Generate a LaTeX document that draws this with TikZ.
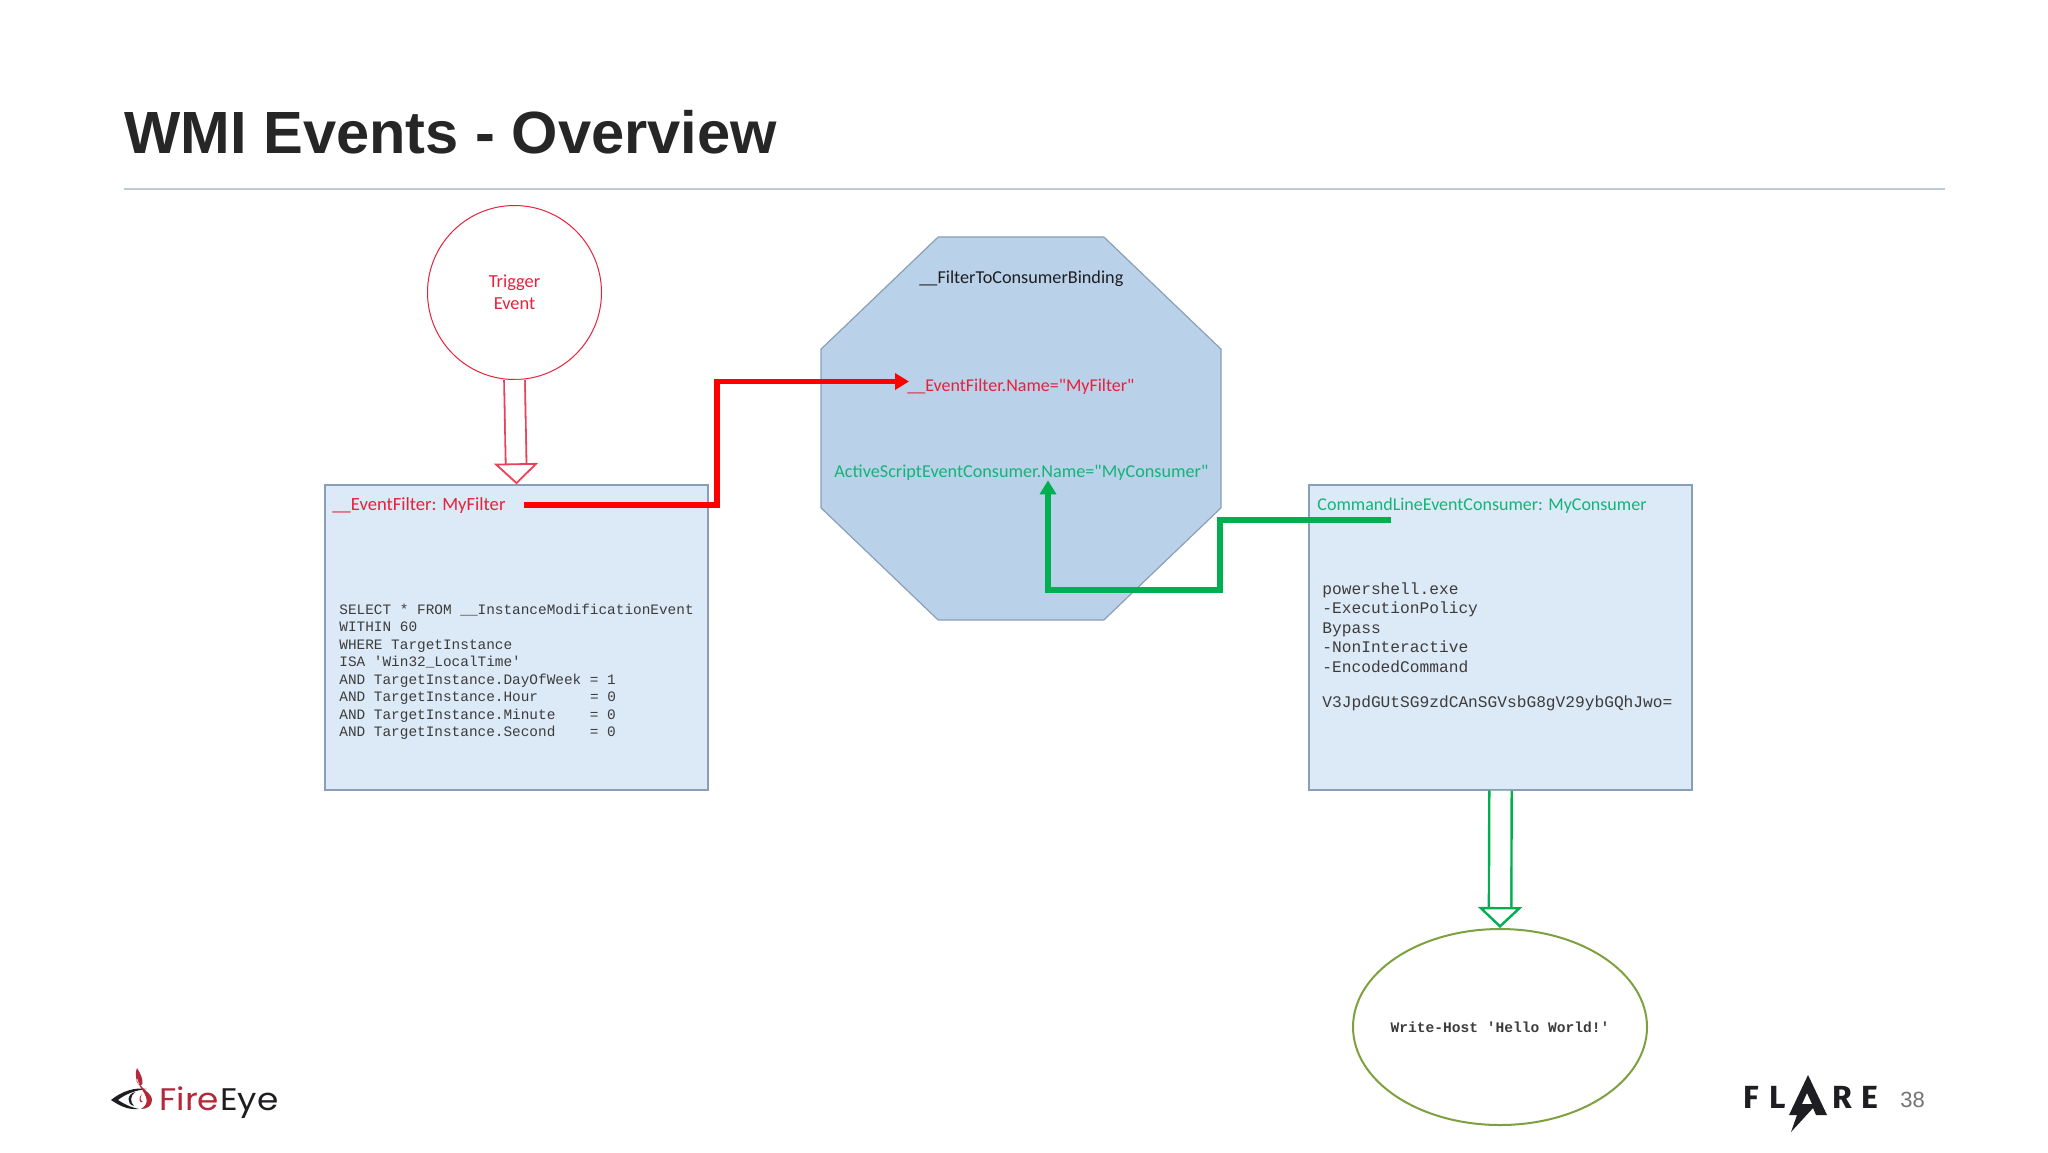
\documentclass[tikz,border=0pt]{standalone}
\usepackage{fontspec}
\setmainfont{Liberation Sans}
\setmonofont{Liberation Mono}
\newfontfamily\labelfont{Carlito}
\newfontfamily\flarefont{Fira Sans}
\newfontfamily\fireeyefont{Poppins}
\usetikzlibrary{arrows.meta,shapes.geometric,calc}
\definecolor{boxblue}{HTML}{DCE9F6}
\definecolor{octblue}{HTML}{B9D2EA}
\definecolor{edgeblue}{HTML}{8A9EB6}
\definecolor{linkgreen}{HTML}{00B050}
\definecolor{olivegreen}{HTML}{7FA03F}
\definecolor{textred}{HTML}{E8203A}
\definecolor{textgreen}{HTML}{14B377}
\definecolor{monogray}{HTML}{3C3C3C}
\definecolor{flamered}{HTML}{B5283A}
\definecolor{logodark}{HTML}{1E1E22}

\begin{document}
\begin{tikzpicture}[x=0.5pt, y=-0.5pt,
		redround/.style = {circle, draw=textred, line width=.5pt, minimum size=87pt, inner sep=0pt, align=center, text=textred, font=\labelfont\fontsize{9.2}{10.8}\selectfont},
		greenround/.style = {ellipse, draw=olivegreen, line width=1pt, minimum width=147pt, minimum height=98pt, inner xsep=-5pt, inner ysep=0pt, font=\ttfamily\bfseries\fontsize{7.3}{9}\selectfont, text=monogray},
		codebox/.style = {rectangle, draw=edgeblue, line width=.7pt, fill=boxblue, minimum width=191.5pt, minimum height=152.5pt, inner sep=0pt},
		octbox/.style = {regular polygon, regular polygon sides=8, draw=edgeblue, line width=.6pt, fill=octblue, minimum size=216.5pt, inner sep=0pt, yscale=.9575, transform shape},
		label/.style = {inner sep=0pt, anchor=base west, font=\labelfont\fontsize{9.1}{10}\selectfont},
		code/.style = {inner sep=0pt, anchor=north west, align=left, text=monogray, font=\ttfamily\fontsize{7.2}{8.75}\selectfont},
		redlink/.style = {draw=red, line width=2.6pt, -{Triangle[length=7pt,width=8pt]}, shorten >=-1pt},
		greenlink/.style = {draw=linkgreen, line width=2.6pt, -{Triangle[length=7pt,width=8pt]}},
		redblock/.style = {draw=textred!85, double=white, double distance=9.5pt, line width=.9pt, -{Triangle[open,length=10.5pt,width=22pt,line width=.9pt,fill=white]}},
		greenblock/.style = {draw=linkgreen, double=white, double distance=10pt, line width=1.2pt, -{Triangle[open,length=10.5pt,width=22pt,line width=1.2pt,fill=white]}},
		flareletter/.style = {inner sep=0pt, anchor=base west, text=logodark, font=\flarefont\bfseries\fontsize{16}{16}\selectfont},
		fireword/.style = {inner sep=0pt, anchor=base west, xscale=1.1, transform shape, font=\fireeyefont\fontsize{15.6}{16}\selectfont}
	]
	\useasboundingbox (0,0) rectangle (2048,1152);

	\node (title) [inner sep=0pt, anchor=base west, text=black!85, font=\bfseries\fontsize{29.8}{32}\selectfont] at (124,153) {WMI Events - Overview};
	\coordinate (ruleleft) at (124,189);
	\coordinate (ruleright) at (1945,189);
	\draw [draw=edgeblue!55, line width=.6pt] (ruleleft) -- (ruleright);

	\node (trigger) [redround] at (514.5,292.5) {Trigger\\Event};
	\node (filterbox) [codebox] at (516.5,637.5) {};
	\node (consumerbox) [codebox] at (1500.5,637.5) {};
	\node (binding) [octbox] at (1021,428.5) {};
	\node (hello) [greenround] at (1500,1027) {Write-Host 'Hello World!'};

	\node (filtername) [label, text=textred, font=\labelfont\fontsize{9.3}{10}\selectfont] at (332,510) {\_\_EventFilter: MyFilter};
	\node (filtercode) [code] at (339,603.5) {SELECT * FROM \_\_InstanceModificationEvent\\WITHIN 60\\WHERE TargetInstance\\ISA 'Win32\_LocalTime'\\AND TargetInstance.DayOfWeek = 1\\AND TargetInstance.Hour~~~~~~= 0\\AND TargetInstance.Minute~~~~= 0\\AND TargetInstance.Second~~~~= 0};

	\node (consumername) [label, text=textgreen, font=\labelfont\fontsize{9}{10}\selectfont] at (1317,510) {CommandLineEventConsumer: MyConsumer};
	\node (consumercode) [code, font=\ttfamily\fontsize{8.1}{9.75}\selectfont] at (1322,582) {powershell.exe\\-ExecutionPolicy\\Bypass\\-NonInteractive\\-EncodedCommand\\[8pt]V3JpdGUtSG9zdCAnSGVsbG8gV29ybGQhJwo=};

	\node (bindingname) [label, text=logodark] at (919,283) {\_\_FilterToConsumerBinding};
	\node (filterref) [label, text=textred, font=\labelfont\fontsize{9}{10}\selectfont] at (907,391) {\_\_EventFilter.Name="MyFilter"};
	\node (consumerref) [label, text=textgreen] at (834,477) {ActiveScriptEventConsumer.Name="MyConsumer"};

	\coordinate (redbend) at (717,381.5);
	\coordinate (greenstart) at (1391,520);
	\coordinate (greenup) at (1220,520);
	\coordinate (greenlow) at (1220,590);
	\coordinate (greenfoot) at (1048,590);

	\draw [redblock] (trigger.south) -- (filterbox.north);
	\draw [greenblock] (consumerbox.south) -- (hello.north);
	\draw [redlink] ([xshift=9pt]filtername.east) -| (redbend) -- (redbend -| filterref.west);
	\draw [greenlink] (greenstart) -- (greenup) -- (greenlow) -- (greenfoot) -- (greenfoot |- consumerref.south);

	\fill [logodark] (111,1100) .. controls (122,1091) and (135,1087) .. (147,1089) .. controls (135,1090) and (124,1095) .. (118,1100) .. controls (124,1104) and (130,1107) .. (139,1109) .. controls (128,1110) and (120,1106) .. (111,1100) -- cycle;
	\fill [logodark] (135,1092) .. controls (127,1094) and (126,1104) .. (134,1106) .. controls (130,1102) and (130,1096) .. (135,1092) -- cycle;
	\fill [flamered] (137,1068) .. controls (134,1076) and (137,1082) .. (140,1086) .. controls (136,1082) and (136,1080) .. (137,1078) .. controls (140,1090) and (152,1092) .. (152,1100) .. controls (152,1106) and (147,1109) .. (141,1109) .. controls (146,1106) and (148,1102) .. (146,1097) .. controls (144,1091) and (140,1088) .. (139,1084) .. controls (143,1088) and (145,1080) .. (137,1068) -- cycle;
	\fill [flamered] (142,1094) .. controls (138,1097) and (139,1104) .. (143,1102) .. controls (140,1101) and (140,1097) .. (142,1094) -- cycle;
	\node (fire) [fireword, text=flamered] at (159,1110) {Fire};
	\node (eye) [fireword, text=logodark] at (fire.base east) {Eye};

	\node (flaref) [flareletter] at (1743,1108) {F};
	\node (flarel) [flareletter] at (1769,1108) {L};
	\node (flarer) [flareletter] at (1832,1108) {R};
	\node (flaree) [flareletter] at (1861,1108) {E};
	\fill [logodark, even odd rule] (1808,1075) -- (1827,1115) -- (1816,1115) -- (1813,1108) -- (1791,1132) -- (1797,1115) -- (1789,1115) -- cycle (1807,1093) -- (1812,1104) -- (1802,1104) -- cycle;

	\node (pagenum) [inner sep=0pt, anchor=base west, text=black!55, font=\fontsize{11}{12}\selectfont] at (1900,1107) {38};
\end{tikzpicture}
\end{document}
